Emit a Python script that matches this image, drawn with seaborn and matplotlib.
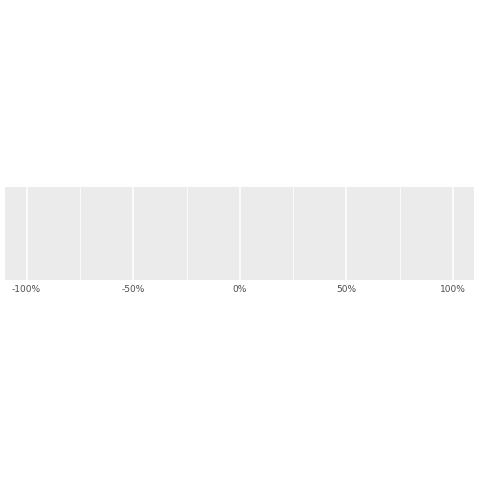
import matplotlib
matplotlib.use("Agg")
import matplotlib.pyplot as plt
import seaborn as sns
import pandas as pd

# chart data: empty panel, only the percent scale is shown
share = []
group = []
tick_values = [-1.0, -0.5, 0.0, 0.5, 1.0]
tick_labels = ["-100%", "-50%", "0%", "50%", "100%"]
minor_values = [-0.75, -0.25, 0.25, 0.75]
x_limits = (-1.1, 1.1)

sns.set_style("darkgrid")
plt.rcParams['font.family'] = ['DejaVu Sans']

fig = plt.figure(figsize=(4.8, 4.8), dpi=100)
ax = fig.add_axes([5.3 / 480, 200 / 480, 469 / 480, 93 / 480])

df = pd.DataFrame({"share": pd.Series(share, dtype=float),
                   "group": pd.Series(group, dtype=float)})
sns.scatterplot(data=df, x="share", y="group", ax=ax)

ax.set_facecolor("#EBEBEB")
ax.set_xlim(*x_limits)
ax.set_ylim(0, 1)
ax.set_xticks(tick_values)
ax.set_xticklabels(tick_labels)
ax.set_xticks(minor_values, minor=True)
ax.set_yticks([])
ax.set_xlabel("")
ax.set_ylabel("")

ax.grid(False)
ax.grid(True, which="major", axis="x", color="white", linewidth=1.1)
ax.grid(True, which="minor", axis="x", color="white", linewidth=0.55)
ax.set_axisbelow(True)
for s in ax.spines.values():
    s.set_visible(False)

ax.tick_params(axis="x", which="major", length=2.7, width=0.5,
               color="#333333", labelsize=6.5, labelcolor="#4D4D4D", pad=1)
ax.tick_params(axis="x", which="minor", length=0)

fig.savefig("out.png", dpi=100, facecolor="white")
